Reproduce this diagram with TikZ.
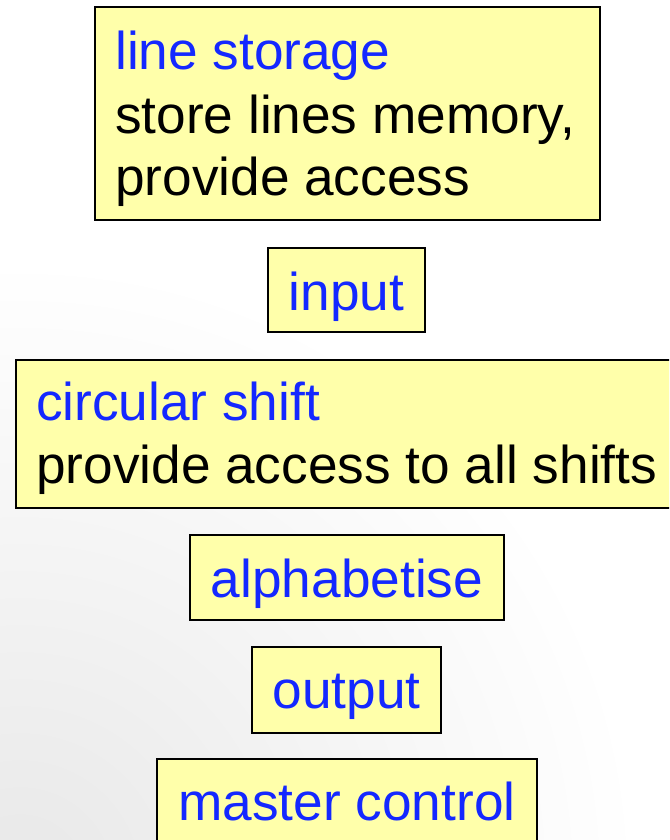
\documentclass[tikz,border=0pt]{standalone}
\usepackage{fontspec}
\setmainfont{Liberation Sans}
\definecolor{boxfill}{RGB}{255,255,170}
\definecolor{titleblue}{RGB}{20,40,255}
\begin{document}
\begin{tikzpicture}[x=1pt,y=-1pt,
  box/.style={draw=black, line width=1.3pt, fill=boxfill, inner sep=0pt,
    outer sep=0pt, anchor=north west},
  txt/.style={font=\fontsize{53.2}{63}\selectfont, inner sep=0pt},
  title/.style={txt, text=titleblue},
  body/.style={txt, text=black}]
  \clip (0,0) rectangle (669,840);
  \fill[white] (0,0) rectangle (669,840);
  % soft grey glow in the lower left corner
  \shade[inner color=black!9, outer color=white] (20,880) circle (620);

  % module boxes
  \node[box, minimum width=505pt, minimum height=213pt] (storage) at (95,7) {};
  \node[box, minimum width=157pt, minimum height=84pt]  (input)   at (268,248) {};
  \node[box, minimum width=680pt, minimum height=148pt] (shift)   at (16,360) {};
  \node[box, minimum width=314pt, minimum height=85pt]  (alpha)   at (190,535) {};
  \node[box, minimum width=189pt, minimum height=86pt]  (output)  at (252,647) {};
  \node[box, minimum width=380pt, minimum height=100pt] (master)  at (157,759) {};

  % box texts
  \node[title, anchor=base west] (storageT) at (115,70)  {line storage};
  \node[body,  anchor=base west] (storageA) at (115,133) {store lines memory,};
  \node[body,  anchor=base west] (storageB) at (115,195) {provide access};

  \node[title, anchor=base] (inputT) at (346.5,310) {input};

  \node[title, anchor=base west] (shiftT) at (36,420) {circular shift};
  \node[body,  anchor=base west] (shiftA) at (36,483) {provide access to all shifts};

  \node[title, anchor=base] (alphaT)  at (347,597) {alphabetise};
  \node[title, anchor=base] (outputT) at (346.5,708) {output};
  \node[title, anchor=base] (masterT) at (347,820) {master control};
\end{tikzpicture}
\end{document}
